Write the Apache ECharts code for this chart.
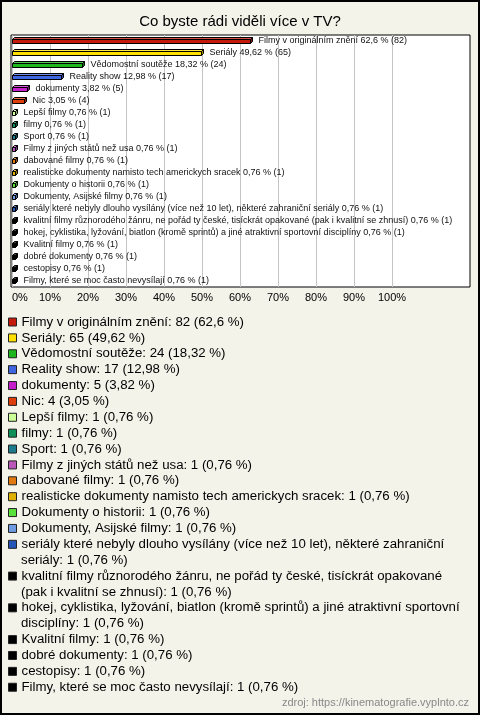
<!DOCTYPE html>
<html>
<head>
<meta charset="utf-8">
<script src="https://cdn.jsdelivr.net/npm/echarts@6/dist/echarts.min.js"></script>
<style>
html,body{margin:0;padding:0;background:#f4f3ea;}
#chart{width:480px;height:715px;}
</style>
</head>
<body>
<div id="chart"></div>
<script>
const titleText = 'Co byste rádi viděli více v TV?';
const sourceText = 'zdroj: https://kinematografie.vyplnto.cz';
const categories = [
  'Filmy v originálním znění',
  'Seriály',
  'Vědomostní soutěže',
  'Reality show',
  'dokumenty',
  'Nic',
  'Lepší filmy',
  'filmy',
  'Sport',
  'Filmy z jiných států než usa',
  'dabované filmy',
  'realisticke dokumenty namisto tech americkych sracek',
  'Dokumenty o historii',
  'Dokumenty, Asijské filmy',
  'seriály které nebyly dlouho vysílány (více než 10 let), některé zahraniční seriály',
  'kvalitní filmy různorodého žánru, ne pořád ty české, tisíckrát opakované (pak i kvalitní se zhnusí)',
  'hokej, cyklistika, lyžování, biatlon (kromě sprintů) a jiné atraktivní sportovní disciplíny',
  'Kvalitní filmy',
  'dobré dokumenty',
  'cestopisy',
  'Filmy, které se moc často nevysílají'
];
const counts = [82, 65, 24, 17, 5, 4, 1, 1, 1, 1, 1, 1, 1, 1, 1, 1, 1, 1, 1, 1, 1];
const percents = [62.6, 49.62, 18.32, 12.98, 3.82, 3.05, 0.76, 0.76, 0.76, 0.76, 0.76, 0.76, 0.76, 0.76, 0.76, 0.76, 0.76, 0.76, 0.76, 0.76, 0.76];
const colors = ['#c41a0c', '#ffe000', '#1db61d', '#3f66e0', '#c41fcb', '#dd3e0c', '#ccff99', '#0f9058', '#1e7b8e', '#b957b9', '#e07a10', '#e0b000', '#5ae03a', '#6f9be0', '#2356b6', '#000000', '#000000', '#000000', '#000000', '#000000', '#000000'];
const xTickMax = 100;
const xTickStep = 10;

const FONT = '"Liberation Sans", Arial, sans-serif';
const fmtPct = v => String(v).replace('.', ',');

function shade(hex, f) {
  const n = parseInt(hex.slice(1), 16);
  let r = (n >> 16) & 255, g = (n >> 8) & 255, b = n & 255;
  if (f >= 0) { r += (255 - r) * f; g += (255 - g) * f; b += (255 - b) * f; }
  else { r *= (1 + f); g *= (1 + f); b *= (1 + f); }
  return 'rgb(' + Math.round(r) + ',' + Math.round(g) + ',' + Math.round(b) + ')';
}

function renderBar(params, api) {
  const v = api.value(0), ci = api.value(1);
  const i = params.seriesIndex;
  const p0 = api.coord([0, ci]);
  const p1 = api.coord([v, ci]);
  const d = 2, h = 4;
  const x0 = Math.round(p0[0]) + 0.5;
  const x1 = Math.round(p1[0]) + 0.5;
  const yt = Math.round(p0[1]) - 1.5;
  const yb = yt + h;
  const col = colors[i];
  const lw = 1, st = '#000';
  return {
    type: 'group',
    children: [
      { type: 'polygon', shape: { points: [[x0, yt], [x0 + d, yt - d], [x1 + d, yt - d], [x1, yt]] },
        style: { fill: shade(col, 0.25), stroke: st, lineWidth: lw } },
      { type: 'polygon', shape: { points: [[x1, yt], [x1 + d, yt - d], [x1 + d, yb - d], [x1, yb]] },
        style: { fill: shade(col, -0.35), stroke: st, lineWidth: lw } },
      { type: 'rect', shape: { x: x0, y: yt, width: x1 - x0, height: h },
        style: { fill: col, stroke: st, lineWidth: lw } },
      { type: 'text', x: x1 + d + 6, y: Math.round(p0[1]),
        style: { text: categories[ci] + ' ' + fmtPct(percents[ci]) + ' % (' + counts[ci] + ')',
          fill: '#111', font: '9px ' + FONT, verticalAlign: 'middle', align: 'left' } }
    ]
  };
}

const series = categories.map((c, i) => ({
  type: 'custom',
  name: c,
  xAxisIndex: 1,
  yAxisIndex: 1,
  itemStyle: { color: colors[i] },
  renderItem: renderBar,
  encode: { x: 0, y: 1 },
  clip: false,
  z: 5,
  data: [[percents[i], i]]
}));

// legend: one component per text row, wrapped like the reference
const LEG_FONT_SIZE = 13.25;
const LEG_TOP = 322, LEG_STEP = 15.88, LEG_MAXW = 446;
const mctx = document.createElement('canvas').getContext('2d');
mctx.font = LEG_FONT_SIZE + 'px ' + FONT;
function wrap(text) {
  const words = text.split(' ');
  const lines = [];
  let cur = '';
  for (const w of words) {
    const t = cur ? cur + ' ' + w : w;
    if (cur && mctx.measureText(t).width > LEG_MAXW) { lines.push(cur); cur = w; }
    else cur = t;
  }
  lines.push(cur);
  return lines;
}
const legends = [];
let row = 0;
categories.forEach((c, i) => {
  const lines = wrap(c + ': ' + counts[i] + ' (' + fmtPct(percents[i]) + ' %)');
  lines.forEach((ln, k) => {
    legends.push({
      orient: 'vertical', left: 8, top: LEG_TOP + LEG_STEP * row - 8, padding: 0, itemGap: 0,
      itemWidth: 8, itemHeight: 8, icon: 'rect',
      itemStyle: k === 0 ? { borderColor: '#222', borderWidth: 1 } : { opacity: 0, borderWidth: 0 },
      textStyle: { fontFamily: FONT, fontSize: LEG_FONT_SIZE, lineHeight: 16, color: '#000' },
      formatter: () => ln,
      data: [{ name: c }]
    });
    row++;
  });
});

const chart = echarts.init(document.getElementById('chart'), null, { renderer: 'canvas' });
chart.setOption({
  backgroundColor: '#f4f3ea',
  animation: false,
  title: {
    text: titleText, left: 'center', top: 9,
    textStyle: { fontFamily: FONT, fontSize: 15, fontWeight: 'normal', color: '#000' }
  },
  grid: [
    { left: 11, top: 35, width: 459, height: 252, show: true, backgroundColor: '#fff', borderColor: '#000', borderWidth: 1, z: 0 },
    { left: 12, top: 35, width: 380, height: 252, z: 1 }
  ],
  xAxis: [
    { gridIndex: 0, type: 'value', min: 0, max: 1, show: false },
    { gridIndex: 1, type: 'value', min: 0, max: xTickMax, interval: xTickStep, z: 1,
      axisLine: { show: false }, axisTick: { show: false },
      splitLine: { show: true, lineStyle: { color: '#c4c4c4', width: 1 } },
      axisLabel: { formatter: '{value}%', fontFamily: FONT, fontSize: 11, color: '#000', margin: 5, alignMinLabel: 'left' } }
  ],
  yAxis: [
    { gridIndex: 0, type: 'value', min: 0, max: 1, show: false },
    { gridIndex: 1, type: 'category', data: categories, inverse: true, show: false }
  ],
  legend: legends,
  graphic: [
    { type: 'rect', z: 100, shape: { x: 1, y: 1, width: 478, height: 713 },
      style: { fill: null, stroke: '#000', lineWidth: 2 } },
    { type: 'text', right: 11, top: 697, z: 100,
      style: { text: sourceText, fill: '#888', font: '11px ' + FONT } }
  ],
  series: series
});
</script>
</body>
</html>
